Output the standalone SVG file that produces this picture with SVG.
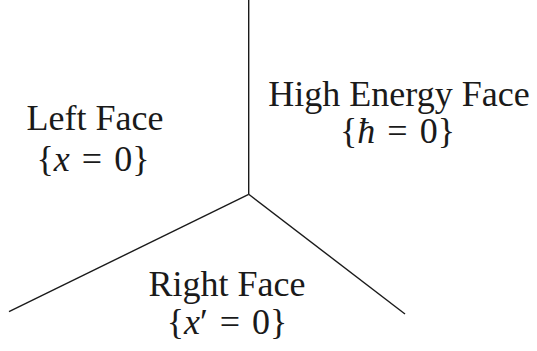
<svg xmlns="http://www.w3.org/2000/svg" width="537" height="351" viewBox="0 0 537 351">
<style>
.t{font-size:36px;fill:#1a1a1a;text-anchor:middle}
.m{word-spacing:3px}
.i{font-style:italic}
.e{stroke:#1a1a1a;stroke-width:1.4;fill:none;stroke-linecap:butt}
</style>
<rect width="537" height="351" fill="#ffffff"/>
<g id="connectors">
<line class="e" x1="248.7" y1="0" x2="248.7" y2="194.3"/>
<line class="e" x1="248.7" y1="194.3" x2="9" y2="311.7"/>
<line class="e" x1="248.7" y1="194.3" x2="405" y2="314"/>
</g>
<g font-family="Liberation Serif, DejaVu Serif, serif">
<g id="left-face">
<text class="t" x="95" y="130">Left Face</text>
<text class="t m" x="93" y="171">{<tspan class="i">x</tspan> = 0}</text>
</g>
<g id="high-energy-face">
<text class="t" x="399" y="106">High Energy Face</text>
<text class="t m" x="397.5" y="143">{<tspan class="i">ħ</tspan> = 0}</text>
</g>
<g id="right-face">
<text class="t" x="227" y="296">Right Face</text>
<text class="t m" x="227" y="334">{<tspan class="i">x</tspan>′ = 0}</text>
</g>
</g>
</svg>
